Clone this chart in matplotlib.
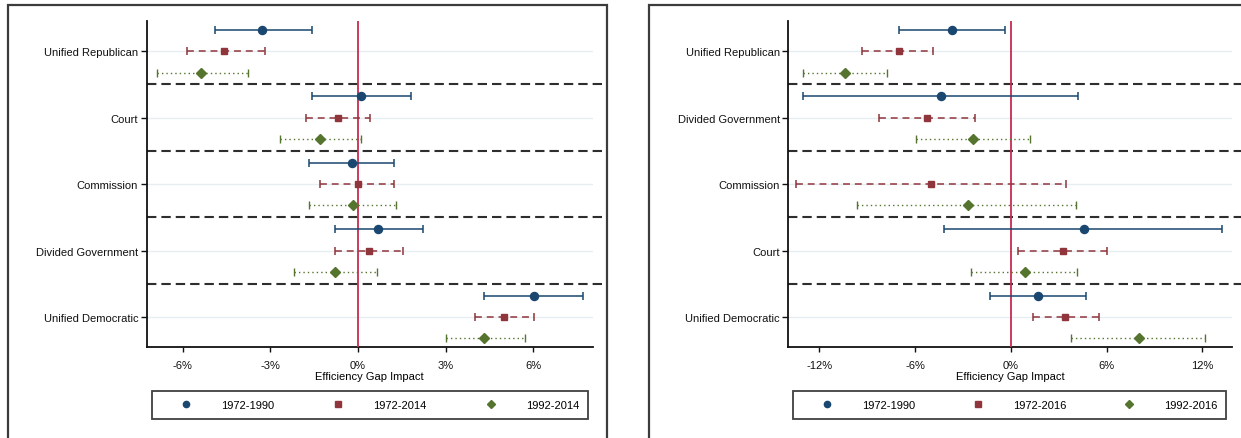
import numpy as np
import matplotlib.pyplot as plt
from matplotlib.lines import Line2D
from matplotlib.patches import Rectangle
import matplotlib.transforms as mtransforms

plt.rcParams['font.family'] = ['Liberation Sans', 'DejaVu Sans']
plt.rcParams['font.size'] = 8

# left panel: 1972-1990 / 1972-2014 / 1992-2014
cats_l = ["Unified Republican", "Court", "Commission", "Divided Government", "Unified Democratic"]
blue_l = [-3.29, 0.09, -0.20, 0.70, 6.02]
blue_l_lo = [-4.89, -1.56, -1.68, -0.77, 4.32]
blue_l_hi = [-1.56, 1.82, 1.22, 2.24, 7.71]
red_l = [-4.58, -0.68, 0.01, 0.39, 5.01]
red_l_lo = [-5.87, -1.79, -1.29, -0.77, 4.01]
red_l_hi = [-3.17, 0.42, 1.22, 1.53, 6.03]
green_l = [-5.38, -1.29, -0.18, -0.77, 4.31]
green_l_lo = [-6.88, -2.67, -1.68, -2.18, 3.02]
green_l_hi = [-3.77, 0.12, 1.31, 0.64, 5.72]
labels_l = ["1972-1990", "1972-2014", "1992-2014"]
ticks_l = [-6, -3, 0, 3, 6]

# right panel: 1972-1990 / 1972-2016 / 1992-2016 (no 1972-1990 estimate for Commission)
cats_r = ["Unified Republican", "Divided Government", "Commission", "Court", "Unified Democratic"]
blue_r = [-3.67, -4.39, np.nan, 4.59, 1.69]
blue_r_lo = [-7.00, -13.00, np.nan, -4.17, -1.34]
blue_r_hi = [-0.39, 4.22, np.nan, 13.21, 4.69]
red_r = [-7.02, -5.26, -5.01, 3.28, 3.38]
red_r_lo = [-9.31, -8.29, -13.50, 0.45, 1.39]
red_r_hi = [-4.86, -2.23, 3.45, 5.99, 5.51]
green_r = [-10.42, -2.38, -2.68, 0.85, 8.00]
green_r_lo = [-13.03, -5.98, -9.65, -2.48, 3.78]
green_r_hi = [-7.79, 1.22, 4.07, 4.15, 12.14]
labels_r = ["1972-1990", "1972-2016", "1992-2016"]
ticks_r = [-12, -6, 0, 6, 12]

NAVY = '#1a476f'
MAROON = '#90353b'
FOREST = '#55752f'
ZERO = '#c72b4f'
GRID = '#e6eef1'

W, H = 1241, 439
fig = plt.figure(figsize=(W / 100, H / 100), dpi=100)


def px(x0, y0, x1, y1):
    # pixel box -> figure fraction [left, bottom, width, height]
    return [x0 / W, 1 - y1 / H, (x1 - x0) / W, (y1 - y0) / H]


def coefplot(ax, cats, series, xlim, ticks, frame_right):
    y = np.arange(len(cats))
    off = 0.32
    styles = [
        (NAVY, 'o', 5.8, '-', 1.1),
        (MAROON, 's', 5.0, (0, (4.5, 3.2)), 1.1),
        (FOREST, 'D', 4.6, (0, (1, 2.2)), 1.0),
    ]
    for k, ((est, lo, hi), (col, mk, ms, ls, lw)) in enumerate(zip(series, styles)):
        est = np.asarray(est, float)
        lo = np.asarray(lo, float)
        hi = np.asarray(hi, float)
        yy = y + (k - 1) * off
        eb = ax.errorbar(est, yy, xerr=[est - lo, hi - est], fmt=mk, color=col,
                         ms=ms, mec=col, mfc=col, ecolor=col, elinewidth=lw,
                         capsize=3.2, capthick=lw, zorder=4)
        eb[2][0].set_linestyle(ls)

    ax.axvline(0, color=ZERO, lw=1.3, zorder=3)
    for yc in y:
        ax.axhline(yc, color=GRID, lw=1.0, zorder=1)
    # separators between groups run out to the panel frame
    trans = mtransforms.blended_transform_factory(ax.transAxes, ax.transData)
    for ys in y[:-1] + 0.5:
        ax.plot([0, frame_right], [ys, ys], transform=trans, color='#2e2e2e',
                lw=1.5, ls=(0, (4.5, 2.4)), clip_on=False, zorder=2)

    ax.set_yticks(y)
    ax.set_yticklabels(cats)
    ax.set_ylim(len(cats) - 1 + 0.45, -0.455)
    ax.set_xlim(*xlim)
    ax.set_xticks(ticks)
    ax.set_xticklabels([f"{t}%" for t in ticks])
    ax.set_xlabel("Efficiency Gap Impact", labelpad=0.5)
    for s in ['top', 'right']:
        ax.spines[s].set_visible(False)
    for s in ['left', 'bottom']:
        ax.spines[s].set_color('#111111')
        ax.spines[s].set_linewidth(1.3)
    ax.tick_params(axis='y', length=4.5, width=1.0, pad=1.5, colors='#111111')
    ax.tick_params(axis='x', length=3.5, width=1.0, pad=6, colors='#111111')


def legend_box(ax_pos, labels):
    handles = [
        Line2D([], [], ls='none', marker='o', color=NAVY, ms=4.5),
        Line2D([], [], ls='none', marker='s', color=MAROON, ms=4),
        Line2D([], [], ls='none', marker='D', color=FOREST, ms=4),
    ]
    leg = fig.legend(handles, labels, loc='center', bbox_to_anchor=ax_pos,
                     mode='expand', ncol=3, frameon=True, fancybox=False,
                     handlelength=4.5, handletextpad=0.9, borderaxespad=0,
                     borderpad=0.8, columnspacing=1.5, fontsize=8)
    leg.get_frame().set_edgecolor('#111111')
    leg.get_frame().set_linewidth(1.3)


# panel frames
fig.patches.append(Rectangle((8 / W, -0.05), (607 - 8) / W, 1.05 - 6 / H,
                             transform=fig.transFigure, fill=False,
                             ec='#3c3c3c', lw=1.6))
fig.patches.append(Rectangle((649 / W, -0.05), 0.5, 1.05 - 6 / H,
                             transform=fig.transFigure, fill=False,
                             ec='#3c3c3c', lw=1.6))

ax1 = fig.add_axes(px(146.5, 22, 593, 348))
coefplot(ax1, cats_l,
         [(blue_l, blue_l_lo, blue_l_hi), (red_l, red_l_lo, red_l_hi),
          (green_l, green_l_lo, green_l_hi)],
         (-7.24, 8.05), ticks_l, (607 - 146.5) / (593 - 146.5))
legend_box(px(152, 392, 588, 420), labels_l)

ax2 = fig.add_axes(px(788, 22, 1232, 348))
coefplot(ax2, cats_r,
         [(blue_r, blue_r_lo, blue_r_hi), (red_r, red_r_lo, red_r_hi),
          (green_r, green_r_lo, green_r_hi)],
         (-13.97, 13.85), ticks_r, (1241 - 788) / (1232 - 788))
legend_box(px(793, 392, 1226, 420), labels_r)

fig.savefig("out.png", dpi=100)
